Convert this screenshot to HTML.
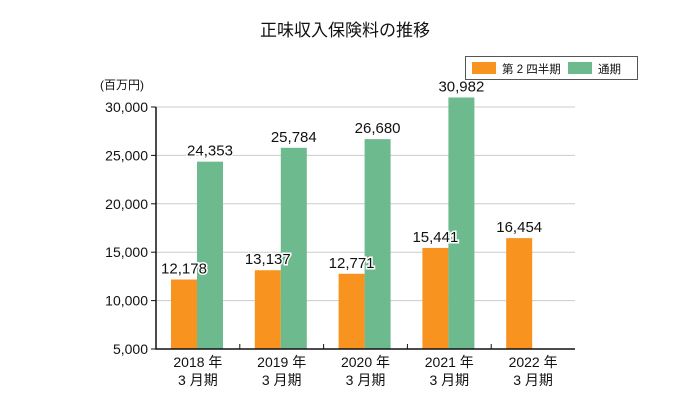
<!DOCTYPE html>
<html><head><meta charset="utf-8"><style>
body{margin:0;background:#fff;font-family:"Liberation Sans","Noto Sans CJK JP",sans-serif;}
svg text{font-family:"Liberation Sans","Noto Sans CJK JP",sans-serif;}
</style></head><body>
<svg width="690" height="400" viewBox="0 0 690 400">
<text x="345" y="36" text-anchor="middle" font-size="17" fill="#111">正味収入保険料の推移</text>
<g>
<rect x="465.5" y="56.5" width="172" height="23" fill="#fff" stroke="#555"/>
<rect x="472" y="62" width="24" height="12" fill="#f7931e"/>
<text x="502" y="73" font-size="11.5" fill="#111">第 2 四半期</text>
<rect x="568" y="62" width="24" height="12" fill="#6dba8e"/>
<text x="598" y="73" font-size="11.5" fill="#111">通期</text>
</g>
<text x="100" y="89" font-size="12" fill="#111">(百万円)</text>
<g id="plot"></g>
</svg>
<script>
const categories=["2018 年","2019 年","2020 年","2021 年","2022 年"];
const q2Values=[12178,13137,12771,15441,16454];
const fullValues=[24353,25784,26680,30982,null];
const yTicks=[5000,10000,15000,20000,25000,30000];
const NS="http://www.w3.org/2000/svg";
const g=document.getElementById('plot');
const x0=156,x1=575,yb=349,yt=107,ymin=5000,ymax=30000;
const y=v=>yb-(v-ymin)/(ymax-ymin)*(yb-yt);
const gw=(x1-x0)/categories.length;
const fmt=v=>v.toLocaleString('en-US');
function mk(t,a){const e=document.createElementNS(NS,t);for(const k in a)e.setAttribute(k,a[k]);g.appendChild(e);return e;}
yTicks.forEach(v=>{
 if(v>ymin){const l=mk('line',{x1:x0,x2:x1,y1:y(v),y2:y(v),stroke:'#ccc','stroke-width':1});
 
 }
 const tk=mk('line',{x1:x0-5,x2:x0,y1:y(v),y2:y(v),stroke:'#111'});
 
 
 const t=mk('text',{x:x0-8,y:y(v)+5,'text-anchor':'end','font-size':14,fill:'#111'});
 t.textContent=fmt(v);
 
 
});
function label(v,cx){
 const t=mk('text',{x:cx,y:y(v)-6,'text-anchor':'middle','font-size':15,fill:'#111',stroke:'#fff','stroke-width':3,'paint-order':'stroke'});
 t.textContent=fmt(v);
 
 
}
categories.forEach((c,i)=>{
 const gs=x0+gw*i, bx=gs+15;
 const b1=mk('rect',{x:bx,y:y(q2Values[i]),width:26,height:yb-y(q2Values[i]),fill:'#f7931e'});
 
 
 if(fullValues[i]!=null){
  const b2=mk('rect',{x:bx+26,y:y(fullValues[i]),width:26,height:yb-y(fullValues[i]),fill:'#6dba8e'});
  
  
 }
 label(q2Values[i],bx+13);
 if(fullValues[i]!=null)label(fullValues[i],bx+39);
 if(i>0){const tk=mk('line',{x1:gs,x2:gs,y1:yb-5,y2:yb,stroke:'#111'});
 
 }
 const cx=gs+gw/2;
 const t1=mk('text',{x:cx,y:367,'text-anchor':'middle','font-size':14,fill:'#111'});
 t1.textContent=c;
 
 
 const t2=mk('text',{x:cx,y:385,'text-anchor':'middle','font-size':14,fill:'#111'});
 t2.textContent='3 月期';
 
 
});
const ax=mk('path',{d:`M${x0},${yt} V${yb} H${x1}`,fill:'none',stroke:'#111','stroke-width':1.5});


</script>
</body></html>
